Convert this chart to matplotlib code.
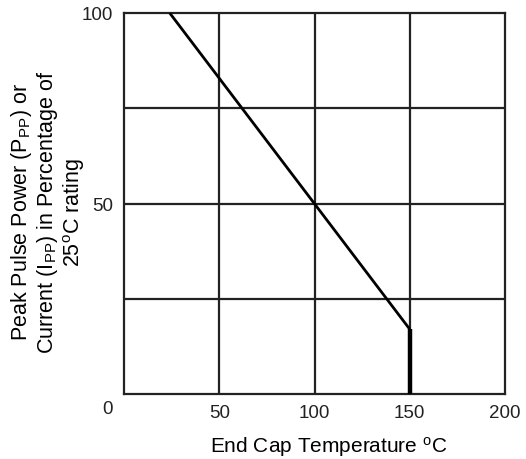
import matplotlib
matplotlib.use("Agg")
import matplotlib.pyplot as plt
import matplotlib.transforms as mtransforms

# Data
temp_c = [24, 150, 150]
pct_rating = [100, 17, 0]
x_ticks = [50, 100, 150, 200]
y_ticks = [0, 50, 100]
grid_x = [50, 100, 150]
grid_y = [25, 50, 75]

plt.rcParams['font.family'] = ['Liberation Sans', 'DejaVu Sans']
plt.rcParams['mathtext.fontset'] = 'custom'
plt.rcParams['mathtext.rm'] = 'Liberation Sans'
plt.rcParams['mathtext.it'] = 'Liberation Sans'

fig = plt.figure(figsize=(5.26, 4.60), dpi=100)
ax = fig.add_axes([124/526, 1-395/460, (505-124)/526, (395-14)/460])
ax.set_xlim(0, 200)
ax.set_ylim(0, 100)

for gx in grid_x:
    ax.axvline(gx, color='#222222', lw=1.6, zorder=1)
for gy in grid_y:
    ax.axhline(gy, color='#222222', lw=1.6, zorder=1)

ax.plot(temp_c[:2], pct_rating[:2], color='black', lw=2.0, zorder=3, solid_capstyle='butt')
ax.plot(temp_c[1:], pct_rating[1:], color='black', lw=3.2, zorder=3, solid_capstyle='butt')

for s in ax.spines.values():
    s.set_color('#222222')
    s.set_linewidth(1.6)

ax.set_xticks(x_ticks)
ax.set_yticks(y_ticks)
ax.set_xticklabels([str(v) for v in x_ticks])
ax.set_yticklabels([str(v) for v in y_ticks])
ax.tick_params(length=0, pad=8)
for lab in ax.get_xticklabels() + ax.get_yticklabels():
    lab.set_fontsize(13.5)
    lab.set_color('#222222')
ylabs = ax.get_yticklabels()
ylabs[0].set_transform(ylabs[0].get_transform() + mtransforms.ScaledTranslation(0, -12/100, fig.dpi_scale_trans))
ax.tick_params(axis='x', pad=7)

ax.set_xlabel(r'End Cap Temperature $^{\mathrm{o}}$C', fontsize=15, va='center')
ax.xaxis.set_label_coords(0.538, -0.136)
ax.set_ylabel('Peak Pulse Power (P$_{\\mathrm{PP}}$) or\n'
              'Current (I$_{\\mathrm{PP}}$) in Percentage of\n'
              '25$^{\\mathrm{o}}$C rating', fontsize=15.5, linespacing=1.05,
              ha='center', va='center')
ax.yaxis.set_label_coords(-0.2, 0.48)

fig.savefig('out.png', dpi=100)
